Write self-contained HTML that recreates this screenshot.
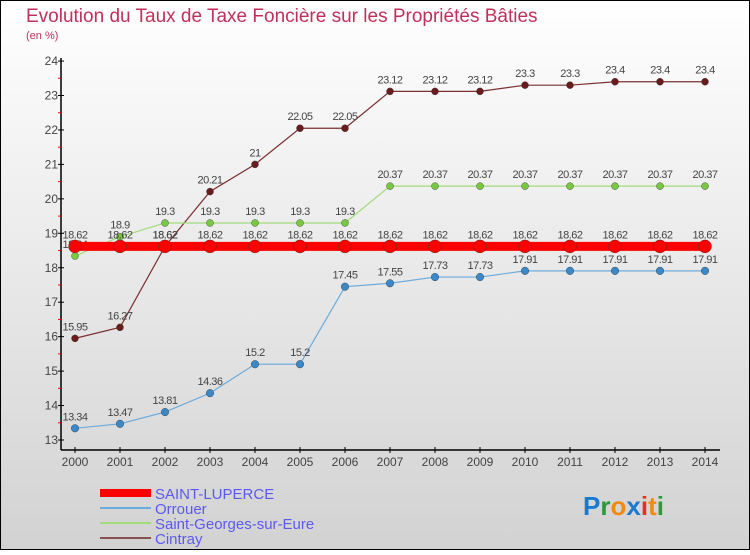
<!DOCTYPE html>
<html><head><meta charset="utf-8"><style>
html,body{margin:0;padding:0}
body{width:750px;height:550px;overflow:hidden;font-family:"Liberation Sans",sans-serif}
</style></head><body>
<svg id="chart" width="750" height="550" xmlns="http://www.w3.org/2000/svg" font-family="Liberation Sans, sans-serif">
<defs><linearGradient id="bg" x1="0" y1="0" x2="0" y2="1"><stop offset="0" stop-color="#ffffff"/><stop offset="1" stop-color="#d2d2d2"/></linearGradient></defs>
<rect x="0.5" y="0.5" width="749" height="549" fill="url(#bg)" stroke="#000"/>
<text x="26" y="22" font-size="19" fill="#c0305a">Evolution du Taux de Taxe Foncière sur les Propriétés Bâties</text>
<text x="26" y="39" font-size="11" fill="#c0305a">(en %)</text>
<g id="axes"></g>
<g id="series"></g>
<g id="legend"></g>
<g font-size="26" font-weight="bold">
<text x="583" y="515"><tspan fill="#1a7ad0">P</tspan><tspan fill="#2a9a3a">r</tspan><tspan fill="#f08a10">o</tspan><tspan fill="#1a7ad0">x</tspan><tspan fill="#e83020">i</tspan><tspan fill="#f08a10">t</tspan><tspan fill="#2a9a3a">i</tspan></text>
</g>
</svg>
<script>
const years=[2000,2001,2002,2003,2004,2005,2006,2007,2008,2009,2010,2011,2012,2013,2014];
const yTicks=[13,14,15,16,17,18,19,20,21,22,23,24];
const saintLuperce=[18.62,18.62,18.62,18.62,18.62,18.62,18.62,18.62,18.62,18.62,18.62,18.62,18.62,18.62,18.62];
const orrouer=[13.34,13.47,13.81,14.36,15.2,15.2,17.45,17.55,17.73,17.73,17.91,17.91,17.91,17.91,17.91];
const saintGeorges=[18.34,18.9,19.3,19.3,19.3,19.3,19.3,20.37,20.37,20.37,20.37,20.37,20.37,20.37,20.37];
const cintray=[15.95,16.27,18.62,20.21,21,22.05,22.05,23.12,23.12,23.12,23.3,23.3,23.4,23.4,23.4];
const seriesNames=["SAINT-LUPERCE","Orrouer","Saint-Georges-sur-Eure","Cintray"];

const NS="http://www.w3.org/2000/svg";
function xS(i){return 75+i*45;}
function yS(v){return 440-(v-13)*34.45;}
function mk(t,a,p){const e=document.createElementNS(NS,t);for(const k in a)e.setAttribute(k,a[k]);p.appendChild(e);return e;}
const axes=document.getElementById('axes');
const yAxis=mk('line',{x1:61,y1:58,x2:61,y2:450,stroke:'#000','stroke-width':1.5},axes);


const xAxis=mk('line',{x1:61,y1:450,x2:720,y2:450,stroke:'#000','stroke-width':1.5},axes);


yTicks.forEach(v=>{
  mk('line',{x1:58,y1:yS(v),x2:64,y2:yS(v),stroke:'#000'},axes);
  if(v<24) mk('line',{x1:58,y1:yS(v+0.5),x2:61,y2:yS(v+0.5),stroke:'#f00'},axes);
  const t=mk('text',{x:58,y:yS(v)+4,'font-size':12,fill:'#444','text-anchor':'end'},axes);
  t.textContent=v;
  
  
});
years.forEach((y,i)=>{
  mk('line',{x1:xS(i),y1:447,x2:xS(i),y2:453,stroke:'#000'},axes);
  const t=mk('text',{x:xS(i),y:466,'font-size':12,fill:'#444','text-anchor':'middle'},axes);
  t.textContent=y;
  
  
});
const sg=document.getElementById('series');
const defs=[
 {d:cintray,line:'#7a3030',dot:'#6a1c1c',w:1.2,r:3.5,name:'cintray'},
 {d:saintGeorges,line:'#a0dc78',dot:'#78c840',w:1.2,r:3.5,name:'saint-georges-sur-eure'},
 {d:orrouer,line:'#6aaadc',dot:'#3a88c8',w:1.2,r:3.8,name:'orrouer'},
 {d:saintLuperce,line:'#f00',dot:'#f00',w:9,r:6.5,name:'saint-luperce'}
];
defs.forEach(s=>{
  const g=mk('g',{},sg);
  
  
  const pl=mk('polyline',{points:s.d.map((v,i)=>xS(i)+','+yS(v)).join(' '),fill:'none',stroke:s.line,'stroke-width':s.w},g);
  
  
  s.d.forEach((v,i)=>{
    const c=mk('circle',{cx:xS(i),cy:yS(v),r:s.r,fill:s.dot,stroke:'#333','stroke-width':0.4},g);
    
    
    const t=mk('text',{x:xS(i),y:yS(v)-8,'font-size':11,fill:'#444','text-anchor':'middle','letter-spacing':'-0.5'},g);
    t.textContent=v;
    
    
  });
});
const lg=document.getElementById('legend');
const lcol=['#f00','#6aaadc','#a0dc78','#8a5050'];
const lw=[8,2,2,2];
seriesNames.forEach((n,i)=>{
  const y=493+i*15;
  const g=mk('g',{},lg);
  
  
  mk('line',{x1:100,y1:y,x2:151,y2:y,stroke:lcol[i],'stroke-width':lw[i]},g);
  const t=mk('text',{x:155,y:y+6,'font-size':15,fill:'#5a5af0'},g);
  t.textContent=n;
});
</script>
</body></html>
